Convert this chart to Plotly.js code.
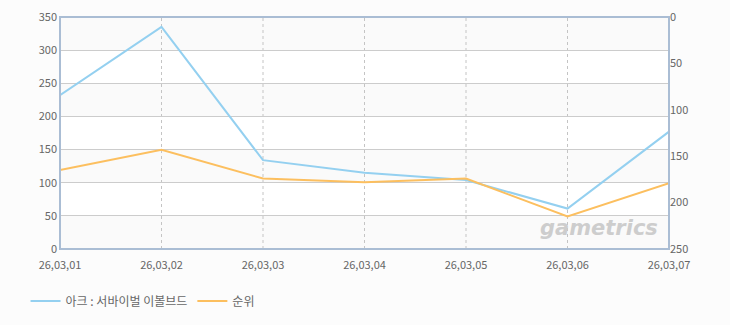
<!DOCTYPE html>
<html><head><meta charset="utf-8">
<script src="https://cdn.plot.ly/plotly-3.0.1.min.js"></script>
<style>body{margin:0;background:#fcfcfc}#chart{width:730px;height:325px}</style>
</head><body><div id="chart"></div>
<script>
const dates = ["26,03,01","26,03,02","26,03,03","26,03,04","26,03,05","26,03,06","26,03,07"];
const seriesName = "아크 : 서바이벌 이볼브드";
const viewers = [232, 335, 134, 115, 104, 61, 177];
const rankName = "순위";
const rank = [165, 143, 174, 178, 174, 215, 179];
const leftTicks = [0,50,100,150,200,250,300,350];
const rightTicks = [0,50,100,150,200,250];

const shapes = [];
for (let i = 0; i < leftTicks.length - 1; i += 2) {
  shapes.push({type:'rect', xref:'paper', yref:'y', x0:0, x1:1, y0:leftTicks[i], y1:leftTicks[i+1], fillcolor:'#fafafa', line:{width:0}, layer:'below'});
}
for (let i = 1; i < dates.length - 1; i++) {
  shapes.push({type:'line', xref:'x', yref:'paper', x0:i, x1:i, y0:0, y1:1, line:{color:'#c4c4c4', width:1, dash:'3px,3px'}, layer:'below'});
}
shapes.push({type:'rect', xref:'paper', yref:'paper', x0:0, x1:1, y0:0, y1:1, line:{color:'#aabdd4', width:2}, fillcolor:'rgba(0,0,0,0)'});

const traces = [
  {x: dates.map((d,i)=>i), y: viewers, name: seriesName, type:'scatter', mode:'lines', line:{color:'#94d0f0', width:2}, yaxis:'y'},
  {x: dates.map((d,i)=>i), y: rank, name: rankName, type:'scatter', mode:'lines', line:{color:'#fcbf5f', width:2}, yaxis:'y2'}
];

const font = {family:'"Noto Sans CJK KR", "DejaVu Sans", sans-serif', size:11, color:'#666'};
const layout = {
  width:730, height:325,
  margin:{l:60, r:61, t:17, b:76, autoexpand:false},
  paper_bgcolor:'#fcfcfc', plot_bgcolor:'#ffffff',
  font: font,
  showlegend:true,
  legend:{orientation:'h', xref:'container', yref:'container', x:0.035, xanchor:'left', y:0.074, yanchor:'middle', font:{size:12, color:'#666', family:font.family}, itemwidth:30, bgcolor:'rgba(0,0,0,0)'},
  xaxis:{range:[0,6], tickvals:dates.map((d,i)=>i), ticktext:dates, showgrid:false, zeroline:false, showline:false, ticks:'', tickfont:{size:11,color:'#666'}, ticklabelstandoff:8},
  yaxis:{range:[0,350], tickvals:leftTicks, showgrid:true, gridcolor:'#cccccc', gridwidth:1, zeroline:false, showline:false, ticks:'', tickfont:{size:11,color:'#666'}, ticklabelstandoff:2},
  yaxis2:{range:[250,0], overlaying:'y', side:'right', tickvals:rightTicks, showgrid:false, zeroline:false, showline:false, ticks:'', tickfont:{size:11,color:'#666'}},
  shapes: shapes,
  annotations:[{xref:'paper', yref:'paper', x:0.985, y:0.09, xanchor:'right', yanchor:'middle', text:'<i><b>gametrics</b></i>', showarrow:false, font:{size:21, color:'#cdcdcd', family:'"DejaVu Sans", sans-serif'}}]
};
Plotly.newPlot('chart', traces, layout, {displayModeBar:false, staticPlot:true});
</script></body></html>
